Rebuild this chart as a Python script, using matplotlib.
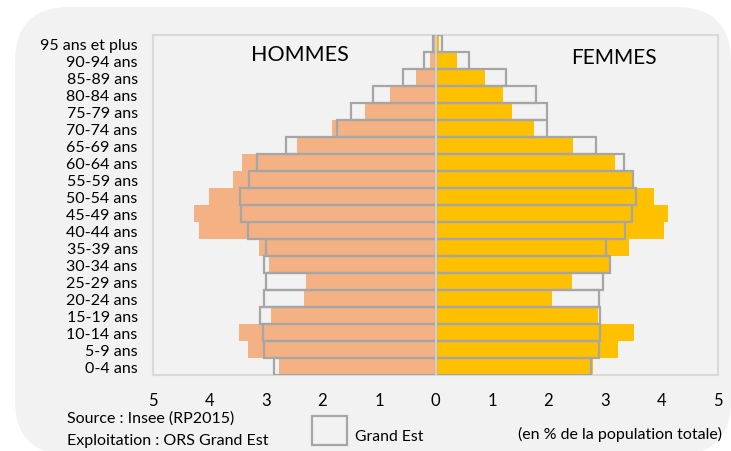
import matplotlib.pyplot as plt
import numpy as np
from matplotlib.patches import FancyBboxPatch, Rectangle
from matplotlib.transforms import IdentityTransform

plt.rcParams['font.family'] = ['Lato', 'DejaVu Sans']

ages = ["0-4 ans", "5-9 ans", "10-14 ans", "15-19 ans", "20-24 ans", "25-29 ans",
        "30-34 ans", "35-39 ans", "40-44 ans", "45-49 ans", "50-54 ans", "55-59 ans",
        "60-64 ans", "65-69 ans", "70-74 ans", "75-79 ans", "80-84 ans", "85-89 ans",
        "90-94 ans", "95 ans et plus"]

# % de la population totale, zone étudiée
hommes = [2.77, 3.32, 3.47, 2.92, 2.33, 2.29, 2.94, 3.13, 4.18, 4.28,
          4.01, 3.59, 3.43, 2.46, 1.84, 1.25, 0.81, 0.35, 0.10, 0.02]
femmes = [2.78, 3.23, 3.51, 2.87, 2.06, 2.42, 3.08, 3.42, 4.04, 4.11,
          3.87, 3.48, 3.17, 2.43, 1.75, 1.35, 1.19, 0.88, 0.38, 0.07]

# Grand Est
ge_hommes = [2.85, 3.03, 3.05, 3.10, 3.03, 3.00, 3.04, 3.00, 3.32, 3.45,
             3.46, 3.30, 3.16, 2.64, 1.74, 1.49, 1.11, 0.58, 0.20, 0.04]
ge_femmes = [2.75, 2.90, 2.91, 2.91, 2.89, 2.97, 3.09, 3.01, 3.36, 3.47,
             3.55, 3.49, 3.33, 2.84, 1.98, 1.98, 1.78, 1.25, 0.59, 0.12]

xticks = [-5, -4, -3, -2, -1, 0, 1, 2, 3, 4, 5]

fig = plt.figure(figsize=(7.31, 4.52), dpi=100)
fig.patch.set_facecolor("white")

# fond arrondi (en pixels)
bg = FancyBboxPatch((15, -4), 716, 448,
                    boxstyle="round,pad=0,rounding_size=55",
                    transform=IdentityTransform(), facecolor="#F2F2F2",
                    edgecolor="none", zorder=-10)
fig.patches.append(bg)

ax = fig.add_axes([153 / 731, 76 / 452, 565 / 731, 340 / 452])
ax.set_facecolor("#F2F2F2")

y = np.arange(len(ages))
ax.barh(y, -np.array(hommes), height=1.0, color="#F4B183", zorder=2)
ax.barh(y, femmes, height=1.0, color="#FFC000", zorder=2)
ax.barh(y, -np.array(ge_hommes), height=1.0, fill=False, edgecolor="#A6A6A6",
        linewidth=1.6, zorder=3)
ax.barh(y, ge_femmes, height=1.0, fill=False, edgecolor="#A6A6A6",
        linewidth=1.6, zorder=3)

ax.axvline(0, color="#D0D0D0", linewidth=1.5, zorder=4)

ax.set_xlim(-5, 5)
ax.set_ylim(-0.5, len(ages) - 0.5)
ax.set_xticks(xticks)
ax.set_xticklabels([str(abs(t)) for t in xticks], fontsize=12)
ax.set_yticks(y)
ax.set_yticklabels(ages, fontsize=11.5)
ax.tick_params(axis="x", length=0, pad=12.5)
ax.tick_params(axis="y", length=0, pad=11)
for s in ax.spines.values():
    s.set_color("#D9D9D9")
    s.set_linewidth(1.5)

ax.text(-2.4, 18.4, "HOMMES", fontsize=15.5, ha="center", va="center")
ax.text(3.16, 18.2, "FEMMES", fontsize=15, ha="center", va="center")

fig.text(67 / 731, 1 - 419 / 452, "Source : Insee (RP2015)", fontsize=11.5,
         va="center", ha="left")
fig.text(67 / 731, 1 - 441 / 452, "Exploitation : ORS Grand Est", fontsize=11.5,
         va="center", ha="left")
fig.patches.append(Rectangle((312 / 731, 1 - 446 / 452), 35 / 731, 29 / 452,
                             transform=fig.transFigure, facecolor="none",
                             edgecolor="#A6A6A6", linewidth=1.6))
fig.text(355 / 731, 1 - 437 / 452, "Grand Est", fontsize=11.3, va="center", ha="left")
fig.text(620 / 731, 1 - 434 / 452, "(en % de la population totale)", fontsize=11.5,
         va="center", ha="center")

fig.savefig("out.png", dpi=100)
